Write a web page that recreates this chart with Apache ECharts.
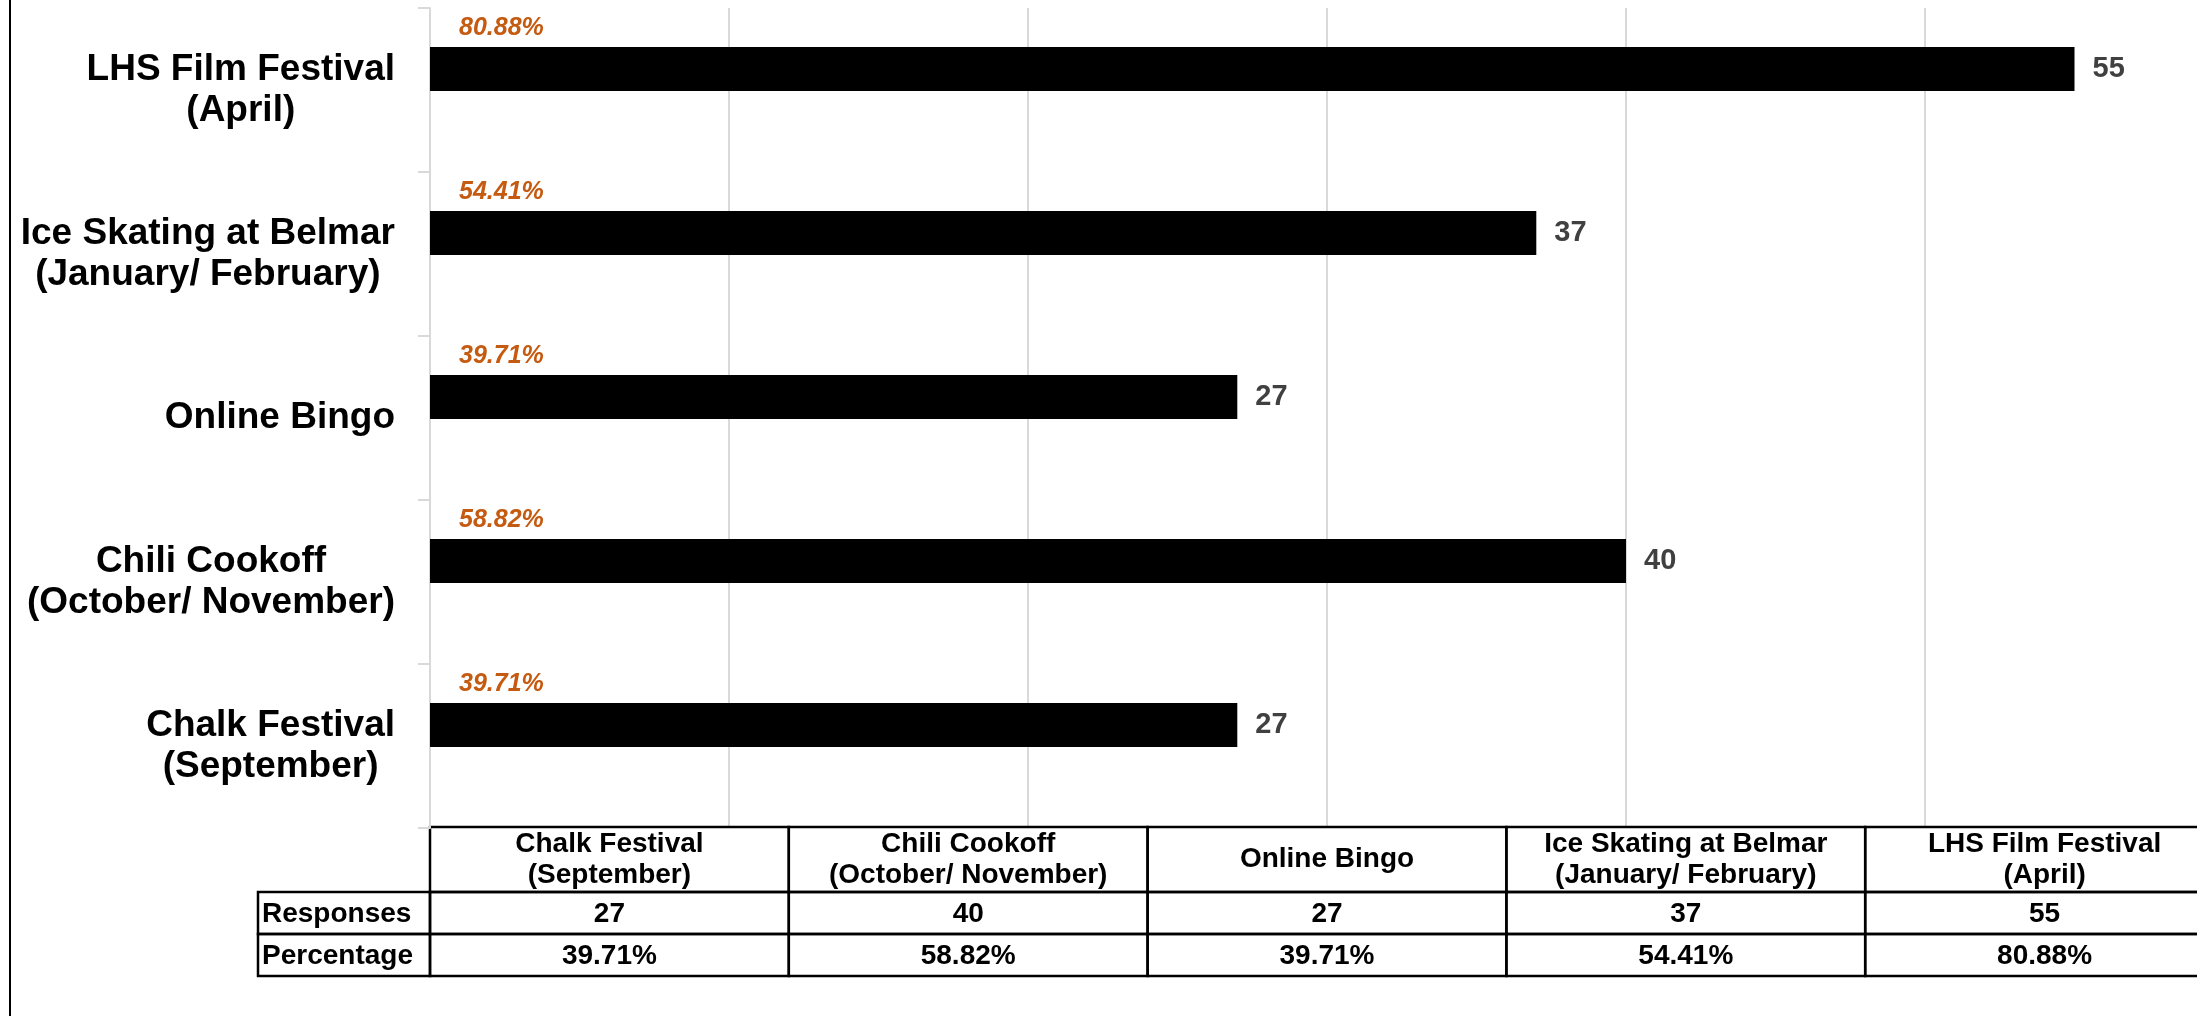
<!DOCTYPE html>
<html><head><meta charset="utf-8">
<script src="https://cdn.jsdelivr.net/npm/echarts@6/dist/echarts.min.js"></script>
<style>html,body{margin:0;padding:0;background:#fff;overflow:hidden}#c{width:2197px;height:1016px}</style>
</head><body><div id="c"></div>
<script>
const categories = ['Chalk Festival\n(September)', 'Chili Cookoff\n(October/ November)', 'Online Bingo', 'Ice Skating at Belmar\n(January/ February)', 'LHS Film Festival\n(April)'];
const responses = [27, 40, 27, 37, 55];
const percentages = [39.71, 58.82, 39.71, 54.41, 80.88];
const rowLabels = ['Responses', 'Percentage'];
const xMin = 0, xMax = 50, xInterval = 10, tableSpan = 60;

const FONT = "'Liberation Sans', Arial, sans-serif";
const chart = echarts.init(document.getElementById('c'), null, {renderer: 'canvas'});

chart.setOption({
  animation: false,
  backgroundColor: '#fff',
  grid: {left: 430, top: 8, width: 1495, height: 820, containLabel: false},
  xAxis: {
    type: 'value', min: xMin, max: xMax, interval: xInterval,
    axisLabel: {show: false}, axisLine: {show: false}, axisTick: {show: false},
    splitLine: {show: true, lineStyle: {color: '#d9d9d9', width: 2}}
  },
  yAxis: {
    type: 'category', data: categories,
    axisLine: {show: true, lineStyle: {color: '#d9d9d9', width: 2}},
    axisTick: {show: true, length: 12, lineStyle: {color: '#d9d9d9', width: 2}},
    axisLabel: {
      margin: 35,
      formatter: v => v.split('\n').map(s => '{c|' + s + '}').join('\n'),
      rich: {c: {align: 'center', fontSize: 37, fontWeight: 'bold', color: '#000', fontFamily: FONT, lineHeight: 41}}
    }
  },
  series: [
    {
      name: 'Responses', type: 'bar', data: responses, barWidth: 44, barGap: '-4.5%', clip: false,
      itemStyle: {color: '#000'},
      label: {show: true, position: 'right', distance: 18, fontSize: 29, fontWeight: 'bold', color: '#404040', fontFamily: FONT}
    },
    {
      name: 'Percentage', type: 'bar', data: percentages, barWidth: 44, barGap: '-4.5%', clip: false,
      itemStyle: {color: 'rgba(0,0,0,0)'}, silent: true,
      label: {show: true, position: [29, -61], align: 'left', verticalAlign: 'middle',
        formatter: p => p.value.toFixed(2) + '%',
        fontSize: 25, fontStyle: 'italic', fontWeight: 'bold', color: '#C55A11', fontFamily: FONT}
    }
  ]
});

// Data table under the plot, columns aligned with the value axis scale
const n = categories.length;
const colX = [];
for (let i = 0; i <= n; i++) colX.push(chart.convertToPixel({xAxisIndex: 0}, xMin + i * tableSpan / n));
const T = {top: 827, headerH: 65, rowH: 42, labelLeft: 258};
const els = [];
const stroke = {stroke: '#000', lineWidth: 2.5, fill: 'none'};
const cellFont = 'bold 28px ' + FONT;
for (let i = 0; i < n; i++) {
  const x0 = colX[i], w = colX[i + 1] - colX[i];
  els.push({type: 'rect', shape: {x: x0, y: T.top, width: w, height: T.headerH}, style: stroke, silent: true});
  els.push({type: 'text', x: x0 + w / 2, y: T.top + T.headerH / 2, silent: true,
    style: {text: categories[i], align: 'center', verticalAlign: 'middle', font: cellFont, lineHeight: 31, fill: '#000'}});
  const vals = [String(responses[i]), percentages[i].toFixed(2) + '%'];
  for (let r = 0; r < 2; r++) {
    const y0 = T.top + T.headerH + r * T.rowH;
    els.push({type: 'rect', shape: {x: x0, y: y0, width: w, height: T.rowH}, style: stroke, silent: true});
    els.push({type: 'text', x: x0 + w / 2, y: y0 + T.rowH / 2 + 1, silent: true,
      style: {text: vals[r], align: 'center', verticalAlign: 'middle', font: cellFont, fill: '#000'}});
  }
}
for (let r = 0; r < 2; r++) {
  const y0 = T.top + T.headerH + r * T.rowH;
  els.push({type: 'rect', shape: {x: T.labelLeft, y: y0, width: colX[0] - T.labelLeft, height: T.rowH}, style: stroke, silent: true});
  els.push({type: 'text', x: T.labelLeft + 4, y: y0 + T.rowH / 2 + 1, silent: true,
    style: {text: rowLabels[r], align: 'left', verticalAlign: 'middle', font: cellFont, fill: '#000'}});
}
els.push({type: 'line', shape: {x1: 10, y1: 0, x2: 10, y2: 1016}, style: {stroke: '#000', lineWidth: 2}, silent: true});
// white strip at the cropped right edge of the picture
els.push({type: 'rect', z: 100, shape: {x: 2190, y: 0, width: 10, height: 825}, style: {fill: '#fff'}, silent: true});
chart.setOption({graphic: {elements: els}});
</script>
</body></html>
